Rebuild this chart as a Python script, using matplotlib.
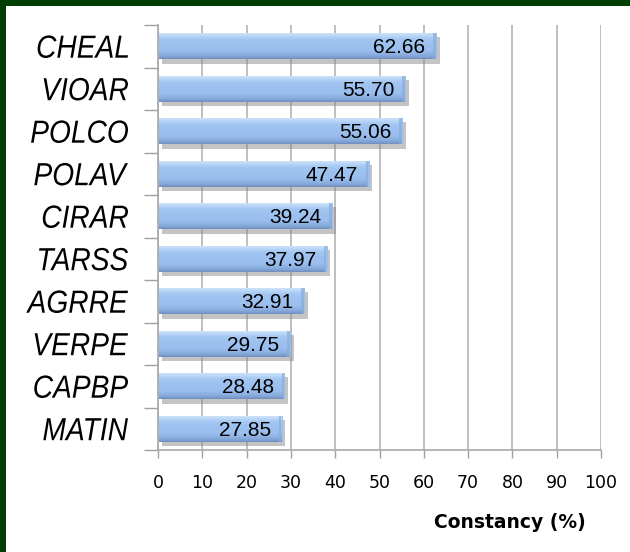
import numpy as np
import matplotlib.pyplot as plt
import matplotlib.patheffects as pe
from matplotlib.colors import LinearSegmentedColormap
from matplotlib.patches import Rectangle, PathPatch
from matplotlib.textpath import TextPath
from matplotlib.font_manager import FontProperties
from matplotlib.transforms import Affine2D, IdentityTransform

species = ['CHEAL', 'VIOAR', 'POLCO', 'POLAV', 'CIRAR',
           'TARSS', 'AGRRE', 'VERPE', 'CAPBP', 'MATIN']
constancy = [62.66, 55.70, 55.06, 47.47, 39.24,
             37.97, 32.91, 29.75, 28.48, 27.85]
x_ticks = list(range(0, 101, 10))

fig = plt.figure(figsize=(6.3, 5.52), dpi=100)
fig.patch.set_facecolor('#003d00')
# white panel inside the green frame
fig.add_artist(Rectangle((6 / 630, 0), 1, 1 - 6 / 552, transform=fig.transFigure,
                         facecolor='white', edgecolor='none', zorder=0))

ax = fig.add_axes([158 / 630, 1 - 450 / 552, 443 / 630, 425 / 552])
ax.set_facecolor('none')

n = len(species)
ypos = np.arange(n)[::-1]
bar_h = 0.62

ax.set_xlim(0, 100)
ax.set_ylim(-0.5, n - 0.5)

bars = ax.barh(ypos, constancy, height=bar_h, left=0.3, color='#9cc0ee', edgecolor='none',
               linewidth=0, zorder=3,
               path_effects=[pe.SimplePatchShadow(offset=(2, -3), shadow_rgbFace='#8a8a8a', alpha=0.5),
                             pe.Normal()])

# vertical gradient on each bar (bottom -> top)
cmap = LinearSegmentedColormap.from_list(
    'barfill', [(0.0, '#6d8cbc'), (0.12, '#86a9dc'), (0.3, '#99bdee'),
                (0.75, '#a4c8f3'), (0.88, '#bfdaf8'), (1.0, '#d8eafb')])
grad = np.linspace(0, 1, 64).reshape(-1, 1)
for b, v, y in zip(bars, constancy, ypos):
    im = ax.imshow(grad, cmap=cmap, aspect='auto', origin='lower', alpha=0.93,
                   extent=(0.3, v, y - bar_h / 2, y + bar_h / 2), zorder=4)
    im.set_clip_path(b)
    ax.barh(y, 0.6, left=v - 0.6, height=bar_h, color='#8aaddc', alpha=0.7,
            edgecolor='none', zorder=5)
    ax.text(v - 2.3, y - 0.03, f'{v:.2f}', ha='right', va='center',
            fontsize=15, family='Liberation Sans', color='black', zorder=6)

ax.set_xticks(x_ticks)
ax.set_xticklabels([str(t) for t in x_ticks], fontsize=12.5, family='DejaVu Sans')
ax.tick_params(axis='x', length=6, width=1, color='#a0a0a0', pad=11, direction='out')
ax.xaxis.grid(True, color='#b4b4b4', linewidth=1.2, zorder=1)
ax.set_axisbelow(True)

ax.set_yticks(ypos)
ax.set_yticklabels([])
ax.set_yticks(np.arange(n + 1) - 0.5, minor=True)
ax.tick_params(axis='y', which='major', length=0)
ax.tick_params(axis='y', which='minor', length=10, width=1, color='#a0a0a0', direction='out')

# condensed italic category labels, drawn as text paths
label_font = FontProperties(family='Liberation Sans', style='italic')
label_px = 32.0
squeeze = 0.88
right_px = 128
for name, y in zip(species, ypos):
    tp = TextPath((0, 0), name, size=label_px, prop=label_font)
    ext = tp.get_extents()
    _, ydisp = ax.transData.transform((0, y))
    cap = 0.716 * label_px
    tr = Affine2D().scale(squeeze, 1).translate(right_px - ext.x1 * squeeze, ydisp - cap / 2)
    fig.add_artist(PathPatch(tr.transform_path(tp), transform=IdentityTransform(),
                             facecolor='black', edgecolor='none', zorder=6))

for side in ['top', 'right']:
    ax.spines[side].set_visible(False)
for side in ['left', 'bottom']:
    ax.spines[side].set_color('#a8a8a8')
    ax.spines[side].set_linewidth(1.2)

fig.text(510 / 630, 1 - 522 / 552, 'Constancy (%)', ha='center', va='center',
         fontsize=13.5, fontweight='bold', family='DejaVu Sans')

fig.savefig('out.png', dpi=100, facecolor=fig.get_facecolor())
